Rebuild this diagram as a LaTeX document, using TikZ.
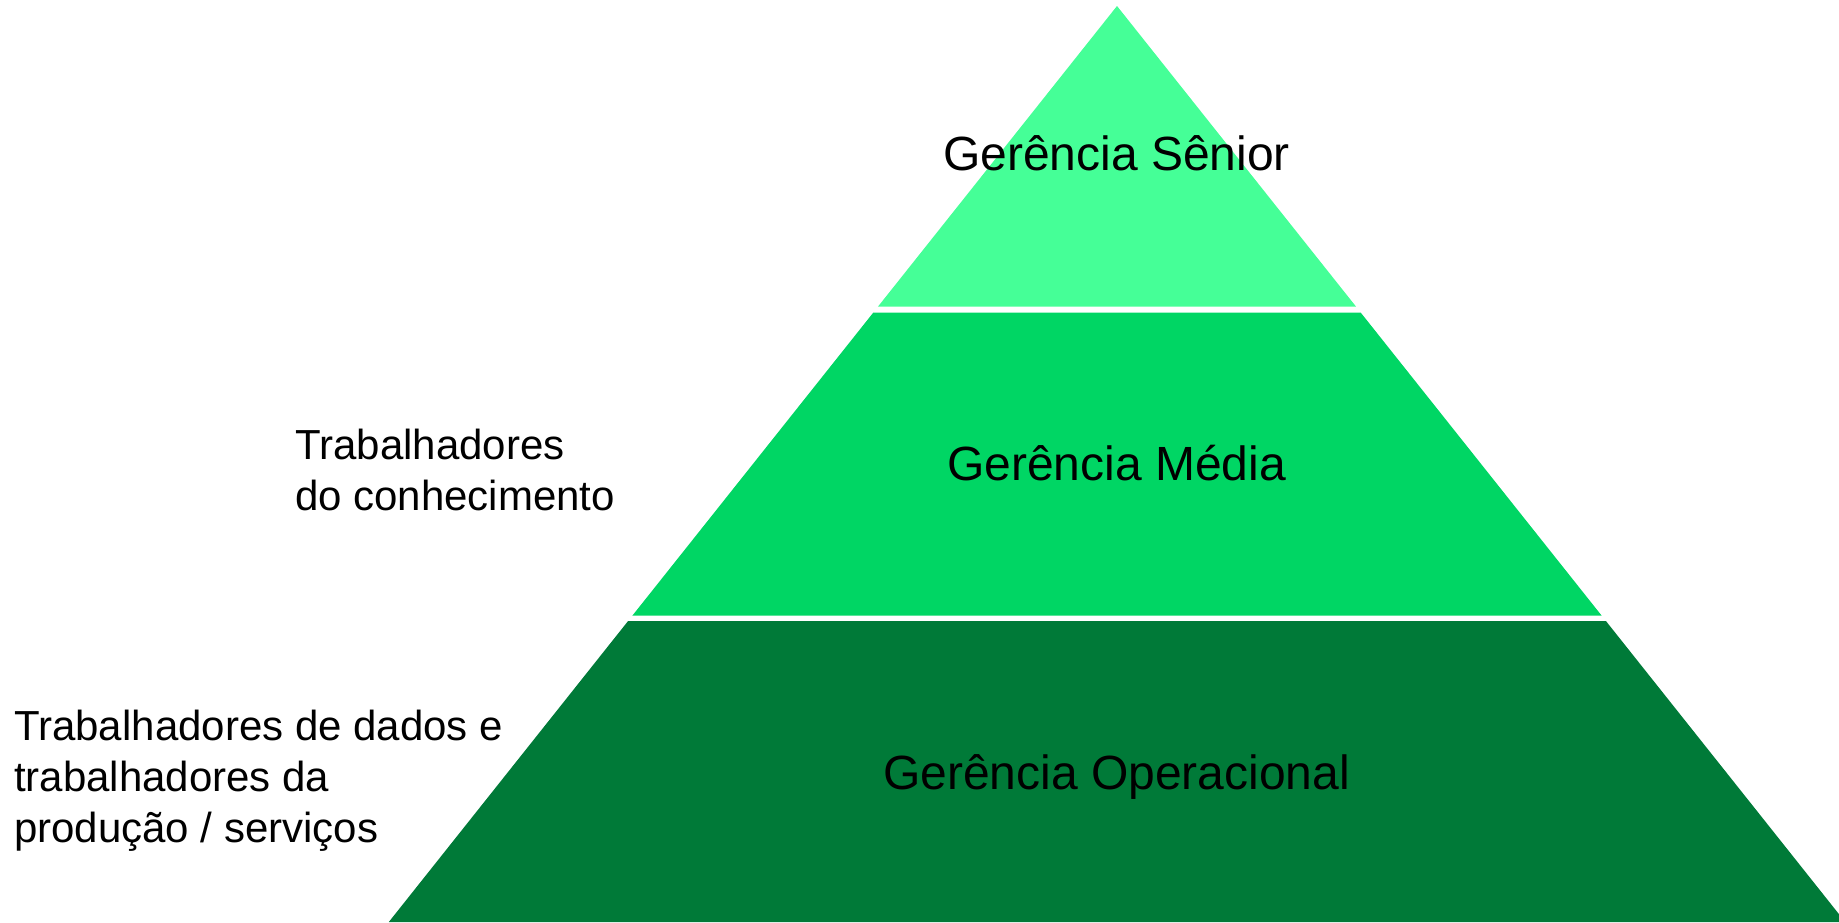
\documentclass[tikz,border=0pt]{standalone}
\usepackage{fontspec}
\setmainfont{Liberation Sans}
\definecolor{tierA}{HTML}{45FF97}
\definecolor{tierB}{HTML}{00D664}
\definecolor{tierC}{HTML}{007A38}
\tikzset{
  tierlabel/.style={inner sep=0pt, font=\fontsize{48}{58}\selectfont, text=black},
  sidelabel/.style={inner sep=0pt, align=left, font=\fontsize{42}{51}\selectfont, text=black},
}
\begin{document}
\begin{tikzpicture}[x=1pt,y=-1pt]
\useasboundingbox (0,0) rectangle (1839,922);
\begin{scope}
\clip (0,0) rectangle (1839,922);
\fill[tierA] (1117,6) -- (1356.1,306.7) -- (877.9,306.7) -- cycle;
\fill[tierB] (873.2,312.7) -- (1360.8,312.7) -- (1601.7,615.7) -- (632.3,615.7) -- cycle;
\fill[tierC] (628.1,621) -- (1605.9,621) -- (1845.2,922) -- (388.8,922) -- cycle;
\end{scope}
\node[tierlabel, anchor=base] (senior) at (1116.5,170) {Gerência Sênior};
\node[tierlabel, anchor=base] (media) at (1116.5,480) {Gerência Média};
\node[tierlabel, anchor=base] (oper) at (1116.5,789) {Gerência Operacional};
\node[sidelabel, anchor=base west] (conh) at (295,510) {Trabalhadores\\do conhecimento};
\node[sidelabel, anchor=base west] (dados) at (14,842) {Trabalhadores de dados e\\trabalhadores da\\produção / serviços};
\end{tikzpicture}
\end{document}
